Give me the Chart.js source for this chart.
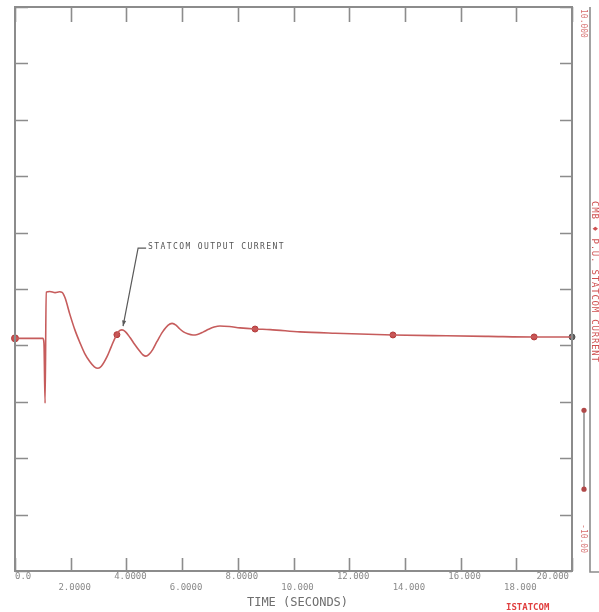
<!DOCTYPE html>
<html>
<head>
<meta charset="utf-8">
<script src="https://cdn.jsdelivr.net/npm/chart.js@4.4.1/dist/chart.umd.min.js"></script>
<style>
  html, body { margin: 0; padding: 0; background: #ffffff; }
  canvas { display: block; }
</style>
</head>
<body>
<canvas id="chart" width="599" height="612"></canvas>
<script>
// Simulation time (s) and STATCOM output current samples
const timeS = [0, 0.5, 1.0, 1.04, 1.08, 1.12, 1.25, 1.44, 1.6, 1.69, 1.8, 1.97, 2.15, 2.33, 2.5, 2.69, 2.85, 2.98,
  3.1, 3.3, 3.45, 3.59, 3.72, 3.84, 3.96, 4.13, 4.3, 4.49, 4.6, 4.7, 4.8, 4.95, 5.1, 5.3, 5.5, 5.64, 5.78, 5.9, 6.05, 6.2, 6.39,
  6.55, 6.75, 6.95, 7.15, 7.36, 7.7, 8.08, 8.62, 9.16, 10.23, 11.5, 13.57, 15.5, 17.0, 18.64, 20.0];
const statcomCurrent = [-1.75, -1.75, -1.75, -1.92, -4.05, -0.11, -0.09, -0.13, -0.10, -0.12, -0.32, -0.90, -1.45, -1.90, -2.28, -2.58, -2.76, -2.81,
  -2.74, -2.41, -2.06, -1.74, -1.51, -1.45, -1.51, -1.72, -1.97, -2.22, -2.34, -2.38, -2.33, -2.14, -1.86, -1.52, -1.28, -1.22, -1.28, -1.40, -1.52, -1.59, -1.63,
  -1.61, -1.53, -1.43, -1.35, -1.31, -1.33, -1.38, -1.42, -1.44, -1.52, -1.57, -1.63, -1.66, -1.68, -1.70, -1.70];

// Symbol positions along the trace
const markerTimes = [0, 3.66, 8.62, 13.57, 18.64, 20.0];
const markerValues = [-1.75, -1.62, -1.42, -1.63, -1.70, -1.70];

// Axis ticks
const xTickValues = [0, 2, 4, 6, 8, 10, 12, 14, 16, 18, 20];
const xTickLabels = ['0.0', '2.0000', '4.0000', '6.0000', '8.0000', '10.000', '12.000', '14.000', '16.000', '18.000', '20.000'];
const yTickValues = [-10, -8, -6, -4, -2, 0, 2, 4, 6, 8, 10];
const rightAxisLabels = ['10.000', '-10.00'];

const xTitle = 'TIME (SECONDS)';
const rightTitle = 'CMB \u2666 P.U. STATCOM CURRENT';
const annotationText = 'STATCOM OUTPUT CURRENT';
const plotId = 'ISTATCOM';

const traceData = timeS.map((t, i) => ({ x: t, y: statcomCurrent[i] }));
const markerData = markerTimes.map((t, i) => ({ x: t, y: markerValues[i] }));

const AXIS = '#8c8c8c';
const LABEL = '#8a8a8a';
const RED = '#c65c5c';
const MONO = '"DejaVu Sans Mono", "Liberation Mono", monospace';

// Frame, inward tick marks, labels and side axis drawn from the chart scales
const framePlugin = {
  id: 'frame',
  afterDatasetsDraw(chart) {
    const { ctx, chartArea: a, scales } = chart;
    const xs = scales.x, ys = scales.y;
    ctx.save();
    ctx.strokeStyle = AXIS;
    ctx.lineWidth = 2;
    ctx.strokeRect(a.left, a.top, a.right - a.left, a.bottom - a.top);

    ctx.lineWidth = 1.6;
    ctx.beginPath();
    xTickValues.forEach(v => {
      const px = Math.round(xs.getPixelForValue(v)) + 0.5;
      ctx.moveTo(px, a.bottom); ctx.lineTo(px, a.bottom - 13);
      ctx.moveTo(px, a.top); ctx.lineTo(px, a.top + 15);
    });
    yTickValues.forEach(v => {
      const py = Math.round(ys.getPixelForValue(v)) + 0.5;
      ctx.moveTo(a.left, py); ctx.lineTo(a.left + 13, py);
      ctx.moveTo(a.right, py); ctx.lineTo(a.right - 12, py);
    });
    ctx.stroke();

    // x tick labels, staggered on two rows
    ctx.fillStyle = LABEL;
    ctx.font = '9px ' + MONO;
    ctx.textBaseline = 'middle';
    xTickValues.forEach((v, i) => {
      const px = xs.getPixelForValue(v);
      const py = (i % 2 === 0) ? a.bottom + 6 : a.bottom + 17;
      if (i === 0) { ctx.textAlign = 'left'; ctx.fillText(xTickLabels[i], px, py); }
      else if (i === xTickValues.length - 1) { ctx.textAlign = 'right'; ctx.fillText(xTickLabels[i], px - 3, py); }
      else { ctx.textAlign = 'center'; ctx.fillText(xTickLabels[i], px + 4, py); }
    });

    // x axis title
    ctx.fillStyle = '#6e6e6e';
    ctx.font = '12px ' + MONO;
    ctx.textAlign = 'center';
    ctx.fillText(xTitle, (a.left + a.right) / 2 + 4, a.bottom + 32);

    // annotation with leader arrow
    const tx = xs.getPixelForValue(4.78), ty = ys.getPixelForValue(1.49);
    const kx = xs.getPixelForValue(4.42), ky = ys.getPixelForValue(1.45);
    const hx = xs.getPixelForValue(3.88), hy = ys.getPixelForValue(-1.32);
    ctx.strokeStyle = '#5a5a5a';
    ctx.lineWidth = 1.2;
    ctx.beginPath();
    ctx.moveTo(tx - 2, ky); ctx.lineTo(kx, ky); ctx.lineTo(hx, hy);
    ctx.stroke();
    const ang = Math.atan2(hy - ky, hx - kx);
    ctx.fillStyle = '#5a5a5a';
    ctx.beginPath();
    ctx.moveTo(hx, hy);
    ctx.lineTo(hx - 6 * Math.cos(ang - 0.35), hy - 6 * Math.sin(ang - 0.35));
    ctx.lineTo(hx - 6 * Math.cos(ang + 0.35), hy - 6 * Math.sin(ang + 0.35));
    ctx.closePath();
    ctx.fill();
    ctx.font = '8px ' + MONO;
    ctx.letterSpacing = '1.4px';
    ctx.textAlign = 'left';
    ctx.fillStyle = '#555555';
    ctx.fillText(annotationText, tx, ty);
    ctx.letterSpacing = '0px';

    // outer value axis on the right
    const ox = a.right + 18;
    ctx.strokeStyle = AXIS;
    ctx.lineWidth = 1.6;
    ctx.beginPath();
    ctx.moveTo(ox, a.top); ctx.lineTo(ox, a.bottom + 1); ctx.lineTo(chart.width, a.bottom + 1);
    ctx.stroke();

    ctx.fillStyle = '#d66e6e';
    ctx.font = '8px ' + MONO;
    ctx.textBaseline = 'middle';
    const rot = (text, x, y, align) => {
      ctx.save(); ctx.translate(x, y); ctx.rotate(Math.PI / 2);
      ctx.textAlign = align; ctx.fillText(text, 0, 0); ctx.restore();
    };
    rot(rightAxisLabels[0], ox - 7, a.top + 2, 'left');
    rot(rightAxisLabels[1], ox - 7, a.bottom - 18, 'right');
    ctx.fillStyle = '#cf5050';
    ctx.font = '9px ' + MONO;
    ctx.letterSpacing = '0.8px';
    rot(rightTitle, ox + 4, ys.getPixelForValue(0.25), 'center');
    ctx.letterSpacing = '0px';

    // legend key: line segment with end symbols
    const ly1 = ys.getPixelForValue(-4.3), ly2 = ys.getPixelForValue(-7.1), lx = ox - 6;
    ctx.strokeStyle = '#8a8a8a';
    ctx.lineWidth = 1.5;
    ctx.beginPath(); ctx.moveTo(lx, ly1); ctx.lineTo(lx, ly2); ctx.stroke();
    ctx.fillStyle = '#b04848';
    [ly1, ly2].forEach(y => { ctx.beginPath(); ctx.arc(lx, y, 2.6, 0, Math.PI * 2); ctx.fill(); });

    // plot identifier
    ctx.fillStyle = '#e04040';
    ctx.font = 'bold 9px ' + MONO;
    ctx.textAlign = 'left';
    ctx.textBaseline = 'top';
    ctx.fillText(plotId, 506, 603);
    ctx.restore();
  }
};

new Chart(document.getElementById('chart'), {
  type: 'line',
  data: {
    datasets: [
      {
        label: annotationText,
        data: traceData,
        borderColor: RED,
        borderWidth: 1.6,
        pointRadius: 0,
        cubicInterpolationMode: 'monotone',
        fill: false,
        clip: false
      },
      {
        label: 'symbols',
        data: markerData,
        showLine: false,
        pointRadius: [3.5, 3, 3, 3, 3, 3],
        pointStyle: 'circle',
        pointBackgroundColor: ['#c95050', '#c95050', '#c95050', '#c95050', '#c95050', '#606060'],
        pointBorderColor: ['#b03c3c', '#b03c3c', '#b03c3c', '#b03c3c', '#b03c3c', '#505050'],
        pointBorderWidth: 1,
        clip: false
      }
    ]
  },
  options: {
    responsive: false,
    animation: false,
    layout: { padding: { left: 15, right: 27, top: 7, bottom: 41 } },
    plugins: { legend: { display: false }, tooltip: { enabled: false }, title: { display: false } },
    scales: {
      x: { type: 'linear', min: 0, max: 20, display: false },
      y: { type: 'linear', min: -10, max: 10, display: false }
    }
  },
  plugins: [framePlugin]
});
</script>
</body>
</html>
